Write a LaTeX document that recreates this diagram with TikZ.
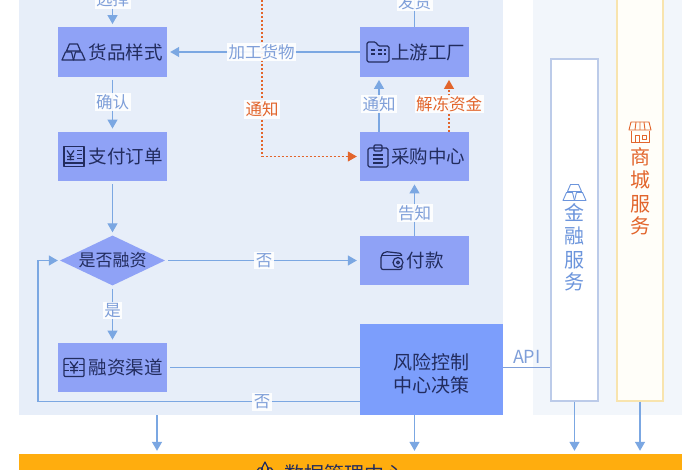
\documentclass[tikz,border=0pt]{standalone}
\usepackage{fontspec}
\setmainfont{Noto Sans CJK SC}
\usetikzlibrary{arrows.meta,shapes.geometric}
\definecolor{boxc}{HTML}{8FA2F6}
\definecolor{panelc}{HTML}{E7EEF9}
\definecolor{rightc}{HTML}{F2F6FB}
\definecolor{riskc}{HTML}{7C9EFC}
\definecolor{barc}{HTML}{FFAD0E}
\definecolor{linec}{HTML}{7BA7E2}
\definecolor{labc}{HTML}{7F9FD9}
\definecolor{orc}{HTML}{E2652C}
\definecolor{inkc}{HTML}{222C5E}
\definecolor{finb}{HTML}{BCCBE9}
\definecolor{shopb}{HTML}{F8E4AE}
\definecolor{shopf}{HTML}{FFFEF9}
\definecolor{fintext}{HTML}{6C95DC}
\tikzset{
  x=1pt,y=-1pt,
  stepbox/.style={draw=none,fill=boxc,minimum width=109pt,minimum height=49.5pt,inner sep=0pt,text=inkc,font=\fontsize{18.5}{20}\selectfont},
  flow/.style={draw=linec,line width=1.3pt,-{Triangle[length=9pt,width=10pt]},shorten >=3pt},
  plain/.style={draw=linec,line width=1.3pt},
  warn/.style={draw=orc,line width=1.1pt,dash pattern=on 2pt off 2pt,-{Triangle[length=9pt,width=10pt,fill=orc]}},
  lab/.style={fill=white,fill opacity=.9,text opacity=1,text=labc,inner sep=1.5pt,font=\fontsize{16.5}{18}\selectfont},
  olab/.style={lab,text=orc},
  ico/.style={draw=inkc,line width=1.2pt,line join=round},
  goldicon/.pic={
    \path[pic actions] (-7,-1)--(-4,-8)--(4,-8)--(7,-1)--cycle;
    \path[pic actions] (-11.5,8)--(-8,0)--(-2,0)--(0,8)--cycle;
    \path[pic actions] (0,8)--(2,0)--(8,0)--(11.5,8)--cycle;
  },
  yenlines/.pic={
    \path[pic actions] (-7,-6)--(-3.5,-1)--(0,-6) (-3.5,-1)--(-3.5,4) (-7,0)--(0,0) (-7,3)--(0,3);
  },
  cardicon/.pic={
    \path[pic actions] (-10,-10) rectangle (10,10);
    \path[pic actions] (-10,6.5)--(10,6.5);
    \pic[ico] {yenlines};
    \path[pic actions] (3,-6)--(8,-6) (3,-2)--(8,-2) (3,2)--(8,2);
  },
  factoryicon/.pic={
    \path[pic actions,rounded corners=1.5pt] (-11,-10)--(-2,-10)--(0,-6)--(11,-6)--(11,10)--(-11,10)--cycle;
    \path[pic actions] (-7,-2)--(-3,-2) (-7,2)--(-3,2) (0,-2)--(4,-2) (0,2)--(4,2) (6,-2)--(8,-2) (6,2)--(8,2);
  },
  clipicon/.pic={
    \path[pic actions,rounded corners=1.5pt] (-10,-8)--(10,-8)--(10,11)--(-10,11)--cycle;
    \path[pic actions,rounded corners=1pt] (-4,-11) rectangle (4,-5);
    \path[pic actions] (-5,-1)--(5,-1) (-5,3)--(5,3) (-5,7)--(5,7);
  },
  walleticon/.pic={
    \path[pic actions,rounded corners=2pt] (10,-5)--(10,-7)--(-7,-9)--(-11,-5)--(-11,9)--(10,9)--(10,5);
    \path[pic actions] (-11,-5)--(10,-5);
    \path[pic actions] (6,2) circle (5pt);
    \path[pic actions] (6,2) circle (1.5pt);
  },
  finicon/.pic={
    \path[pic actions,rounded corners=1pt] (-10,-9) rectangle (10,9);
    \path[pic actions] (-10,-3)--(-5,-3) (-10,3)--(-5,3) (5,-3)--(10,-3) (5,3)--(10,3);
    \path[pic actions] (-4,-6)--(0,-1)--(4,-6) (0,-1)--(0,6) (-4,0)--(4,0) (-4,3)--(4,3);
  },
  shopicon/.pic={
    \path[pic actions] (-9,-10)--(9,-10)--(11,-2)--(-11,-2)--cycle;
    \path[pic actions] (-4,-10)--(-5,-2) (0,-10)--(0,-2) (4,-10)--(5,-2);
    \path[pic actions] (-9,-1)--(-9,10)--(9,10)--(9,-1);
    \path[pic actions] (-5,3) rectangle (-1,10) (2,3) rectangle (6,7);
  },
  dataicon/.pic={
    \path[pic actions] (-12,4)--(-6,-4)--(-3,-4)--(0,-10)--(3,-4)--(6,-4)--(12,4)--(12,14)--(-12,14)--cycle;
    \path[pic actions] (-3,-4)--(-3,5)--(3,5)--(3,-4);
  }
}
\begin{document}
\begin{tikzpicture}
\useasboundingbox (0,0) rectangle (700,470);
\clip (0,0) rectangle (700,470);
\fill[white] (0,0) rectangle (700,470);
% panels
\node[fill=panelc,minimum width=484pt,minimum height=435pt,inner sep=0pt] (panel) at (261,197.5) {};
\node[fill=rightc,minimum width=149pt,minimum height=435pt,inner sep=0pt] (rpanel) at (607.5,197.5) {};
\node[fill=barc,minimum width=663pt,minimum height=36pt,inner sep=0pt] (bar) at (350.5,472) {};
\node[anchor=west,inner sep=0pt,text=inkc,font=\fontsize{20}{22}\selectfont] (bart) at (284,474) {数据管理中心};
\pic[ico,draw=inkc] at (265,472) {dataicon};
% service columns
\node[draw=finb,line width=1.2pt,fill=white,minimum width=47pt,minimum height=342pt,inner sep=0pt] (jr) at (574.5,230) {};
\node[draw=shopb,line width=1.2pt,fill=shopf,minimum width=46pt,minimum height=421pt,inner sep=0pt] (sc) at (640,190.5) {};
\foreach \c/\y in {金/213,融/236,服/260,务/282}{
  \node[inner sep=0pt,text=fintext,font=\fontsize{20}{22}\selectfont] at (574.5,\y) {\c};}
\foreach \c/\y in {商/157,城/180,服/204,务/226}{
  \node[inner sep=0pt,text=orc,font=\fontsize{20}{22}\selectfont] at (640,\y) {\c};}
\pic[ico,draw=fintext,line width=.9pt] at (574.5,192.5) {goldicon};
\pic[ico,draw=orc,line width=.9pt] at (640,132) {shopicon};
% boxes
\node[stepbox] (hp) at (112.5,52) {\hspace*{26pt}货品样式};
\node[stepbox] (zf) at (112.5,156.5) {\hspace*{26pt}支付订单};
\node[stepbox] (rz) at (112.5,367.5) {\hspace*{26pt}融资渠道};
\node[stepbox] (sy) at (414.5,52) {\hspace*{27pt}上游工厂};
\node[stepbox] (cg) at (414.5,156.5) {\hspace*{27pt}采购中心};
\node[stepbox] (fk) at (414.5,260.5) {\hspace*{21pt}付款};
\node[diamond,aspect=2.1,fill=boxc,minimum width=105pt,minimum height=50pt,inner sep=0pt,text=inkc,font=\fontsize{17}{18}\selectfont] (sf) at (112.5,260.5) {是否融资};
\node[fill=riskc,minimum width=143pt,minimum height=91pt,inner sep=0pt] (risk) at (431.5,369.5) {};
\node[inner sep=0pt,text=inkc,align=center,font=\fontsize{19}{23}\selectfont] (riskt) at (431.5,373.5) {风险控制\\中心决策};
% icons
\pic[ico] at (73.5,52) {goldicon};
\pic[ico] at (74,156.5) {cardicon};
\pic[ico] at (74,367.5) {finicon};
\pic[ico] at (378,52) {factoryicon};
\pic[ico] at (378,156) {clipicon};
\pic[ico] at (392,260.5) {walleticon};
% free ends and x-positions
\coordinate (topa) at (112.5,-8);
\coordinate (topb) at (414.5,-8);
\coordinate (topo) at (262,-8);
\coordinate (xl) at (38,0);
\coordinate (xo) at (262,0);
\coordinate (xa) at (157,0);
\coordinate (xn) at (379,0);
\coordinate (xj) at (449,0);
\coordinate (yl) at (0,401.5);
% orange dashed
\draw[warn,shorten >=3pt] (topo) -- (xo |- cg.west) -- (cg.west);
\node[olab] (lbo) at (262,109.5) {通知};
\draw[warn,shorten >=3pt] (xj |- cg.north) -- (xj |- sy.south) node[olab,midway] {解冻资金};
% blue flow
\draw[flow] (topa) -- (hp.north) node[lab,pos=.22] {选择};
\draw[plain] (topb) -- (sy.north) node[lab,pos=.28] {发货};
\draw[flow] (hp.south) ++(0,3) -- (zf.north) node[lab,pos=.425] {确认};
\draw[flow] (zf.south) ++(0,3) -- (sf.north);
\draw[flow] (sf.south) ++(0,3) -- (rz.north) node[lab,pos=.4,inner sep=1pt] {是};
\draw[flow] (sf.east) ++(3,0) -- (fk.west) node[lab,pos=.5] {否};
\draw[flow] (sy.west) -- (hp.east) node[lab,pos=.51] {加工货物};
\draw[flow] (xn |- cg.north) -- (xn |- sy.south) node[lab,midway] {通知};
\draw[flow] (fk.north) -- (cg.south) node[lab,pos=.42] {告知};
\draw[plain] (rz.east) ++(3,0) -- (rz.east -| risk.west);
\draw[flow,shorten >=2pt] (risk.west |- yl) -- (xl |- yl) -- (xl |- sf.west) -- (sf.west);
\node[lab] (lbn) at (262,402) {否};
\draw[plain,draw=labc] (risk.east |- rz.east) -- (jr.west |- rz.east) node[midway,above=3pt,inner sep=0pt,text=labc,font=\fontsize{18}{18}\selectfont] {API};
\draw[flow] (xa |- panel.south) -- (xa |- bar.north);
\draw[flow] (cg.south |- risk.south) -- (cg.south |- bar.north);
\draw[flow] (jr.south) -- (jr.south |- bar.north);
\draw[flow] (sc.south) -- (sc.south |- bar.north);
\end{tikzpicture}
\end{document}
